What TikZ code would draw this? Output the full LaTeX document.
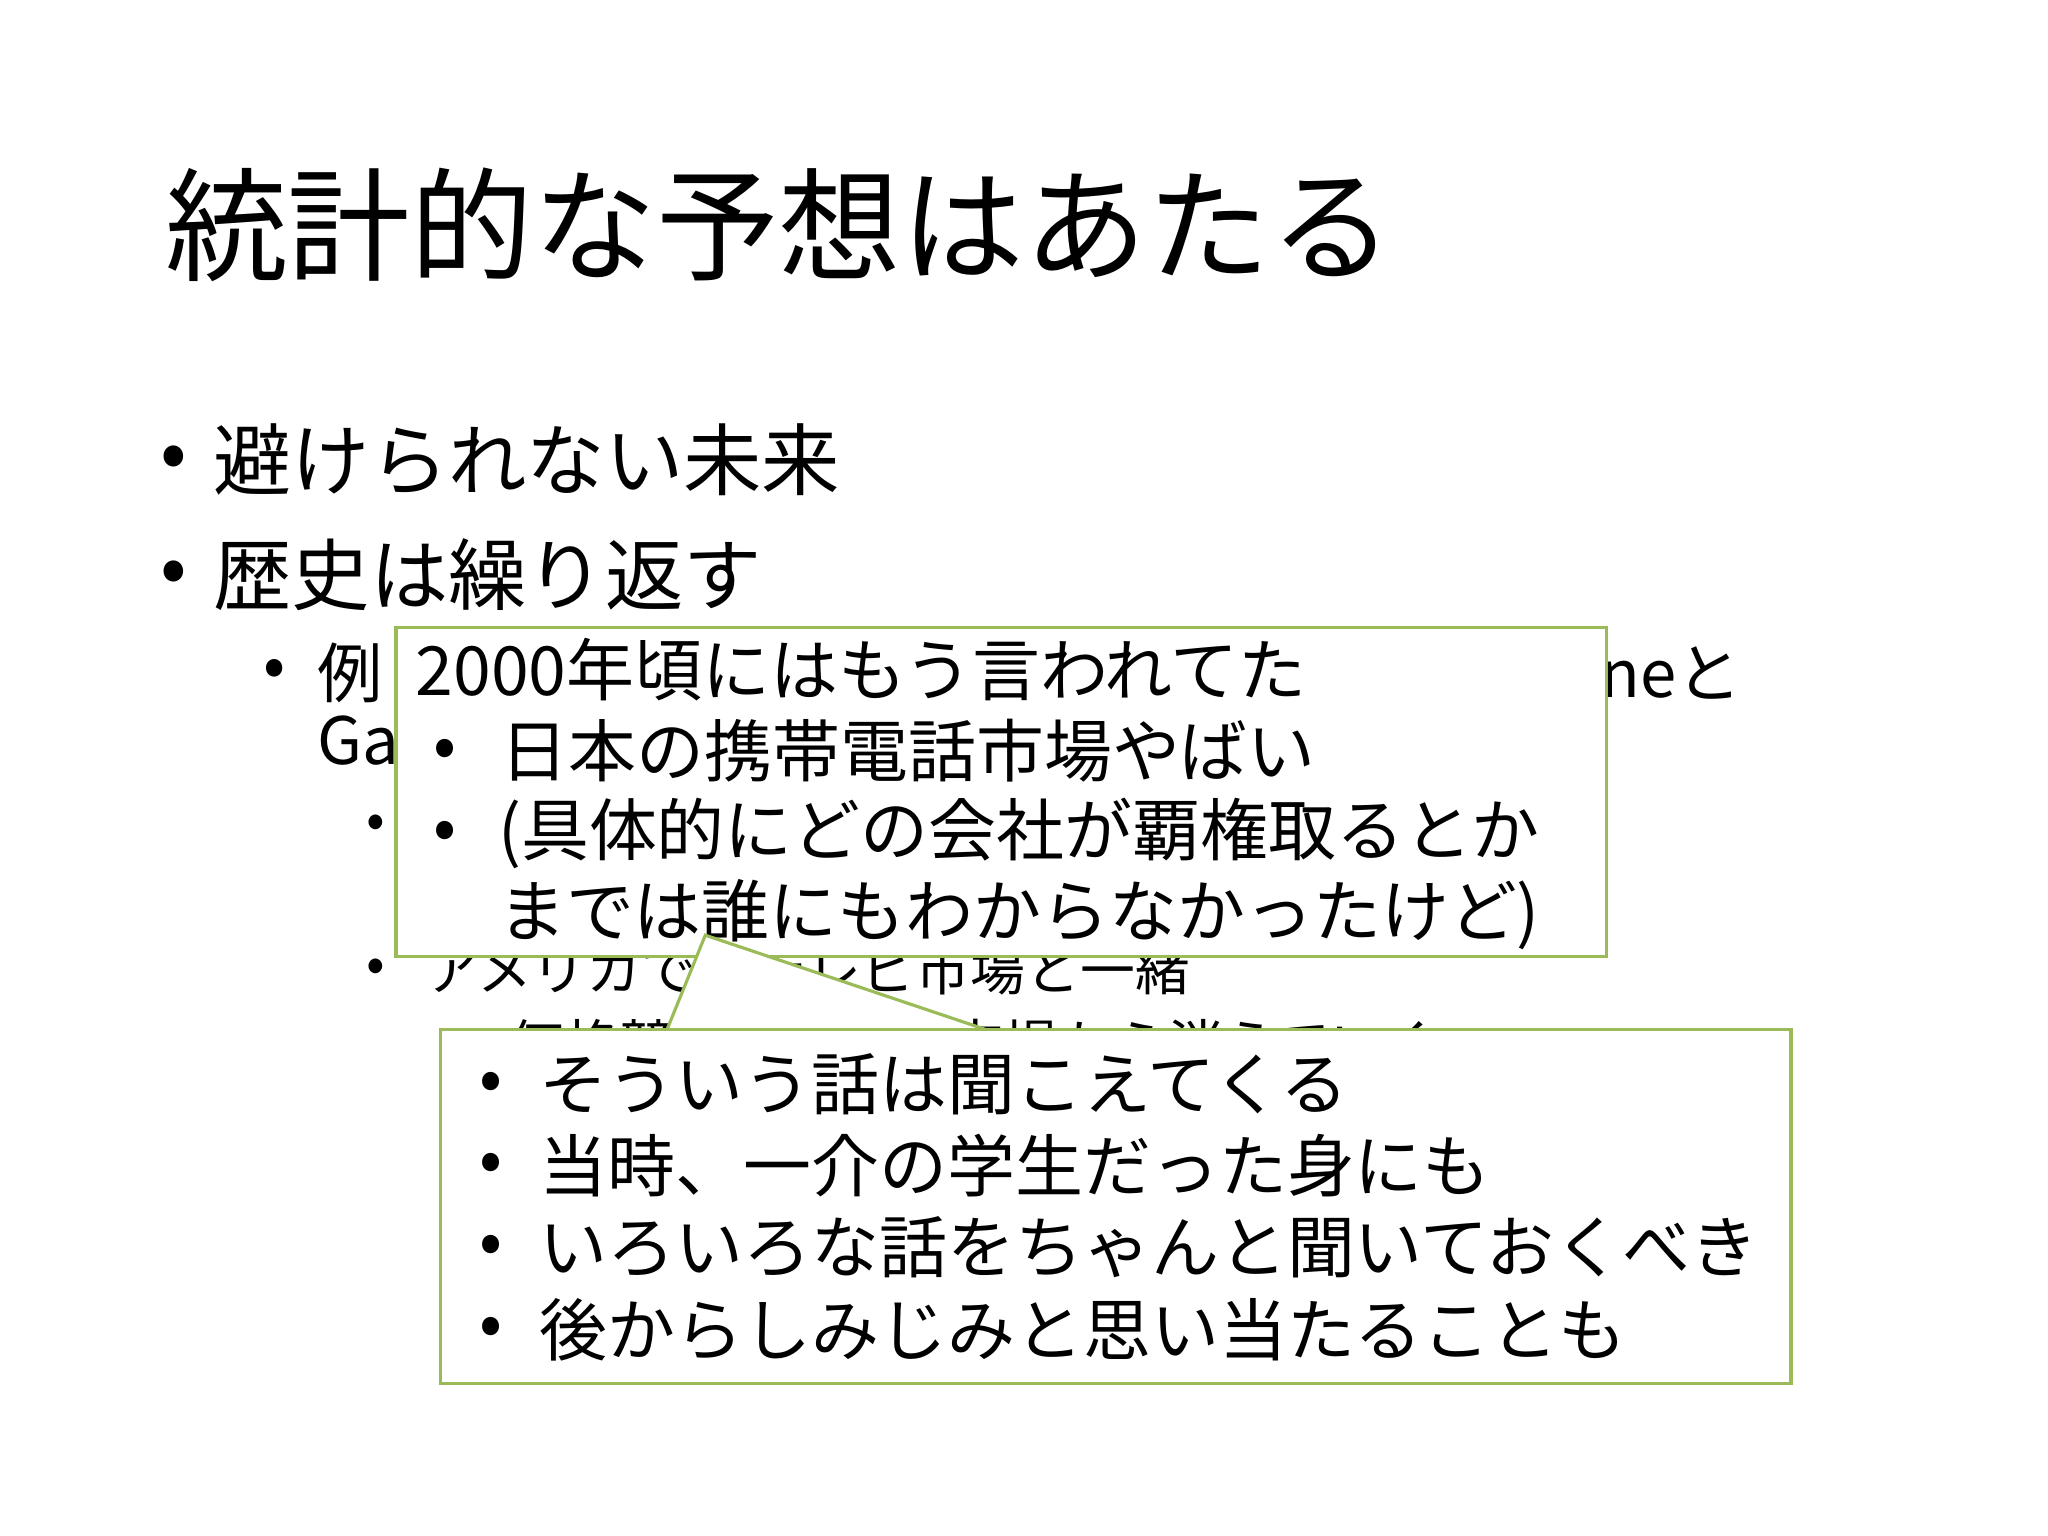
\documentclass[tikz,border=0pt]{standalone}
\usepackage{fontspec}
\setmainfont{Noto Sans CJK JP}[BoldFont={Noto Sans CJK JP}]
\definecolor{boxgreen}{HTML}{9BBB59}
\begin{document}
\begin{tikzpicture}[x=0.5pt,y=-0.5pt,
  txt/.style={anchor=west,inner sep=0pt,font=\fontsize{#1}{#1}\selectfont},
  bul/.style={anchor=center,inner sep=0pt,font=\fontsize{#1}{#1}\selectfont},
  callbox/.style={draw=boxgreen,line width=1.2pt,fill=white}]
\useasboundingbox (0,0) rectangle (1568,1176);
\fill[white] (0,0) rectangle (1568,1176);
% title
\node[txt=47] (title) at (126,172) {統計的な予想はあたる};
% level 1
\node[bul=30] (b1) at (133,354) {•};
\node[txt=30] (t1) at (163,352) {避けられない未来};
\node[bul=30] (b2) at (133,442) {•};
\node[txt=30] (t2) at (163,440) {歴史は繰り返す};
% level 2
\node[bul=25] (b3) at (210,516) {•};
\node[txt=25] (t3) at (243,515) {\makebox[545pt][s]{例：日本の携帯電話市場を席巻した\hfill iPhoneと}};
\node[txt=25] (t3b) at (243,570) {Galaxyの台頭};
% level 3
\node[bul=21] (b4) at (288,633) {•};
\node[txt=21] (t4) at (325,632) {国内メーカーの撤退};
\node[bul=21] (b5) at (288,743) {•};
\node[txt=21] (t5) at (325,742) {アメリカでのテレビ市場と一緒};
\node[txt=21] (t6) at (390,800) {価格競争で日本の市場から消えていく};
% box 1
\node[callbox,minimum width=927*0.5pt,minimum height=252*0.5pt,anchor=north west,inner sep=0pt] (box1) at (302,479) {};
\node[txt=26] (h1) at (318,513) {2000年頃にはもう言われてた};
\node[bul=26] (c1) at (341,577) {•};
\node[txt=26] (c1t) at (383,575) {日本の携帯電話市場やばい};
\node[bul=26] (c2) at (341,640) {•};
\node[txt=26] (c2t) at (381,638) {(具体的にどの会社が覇権取るとか};
\node[txt=26] (c3t) at (381,700) {までは誰にもわからなかったけど)};
% tail
\coordinate (apex) at (540,716);
\coordinate (tl) at (510,790);
\coordinate (tr) at (760,790);
\fill[white] (apex) -- (tl) -- (tr) -- cycle;
\draw[boxgreen,line width=1.2pt] (tl) -- (apex) -- (tr);
% box 2
\node[callbox,minimum width=1034*0.5pt,minimum height=271*0.5pt,anchor=north west,inner sep=0pt] (box2) at (336,787) {};
\node[bul=26] (d1) at (376,832) {•};
\node[txt=26] (d1t) at (413,830) {そういう話は聞こえてくる};
\node[bul=26] (d2) at (376,894) {•};
\node[txt=26] (d2t) at (413,892) {当時、一介の学生だった身にも};
\node[bul=26] (d3) at (376,957) {•};
\node[txt=26] (d3t) at (413,955) {いろいろな話をちゃんと聞いておくべき};
\node[bul=26] (d4) at (376,1020) {•};
\node[txt=26] (d4t) at (413,1018) {後からしみじみと思い当たることも};
\end{tikzpicture}
\end{document}
